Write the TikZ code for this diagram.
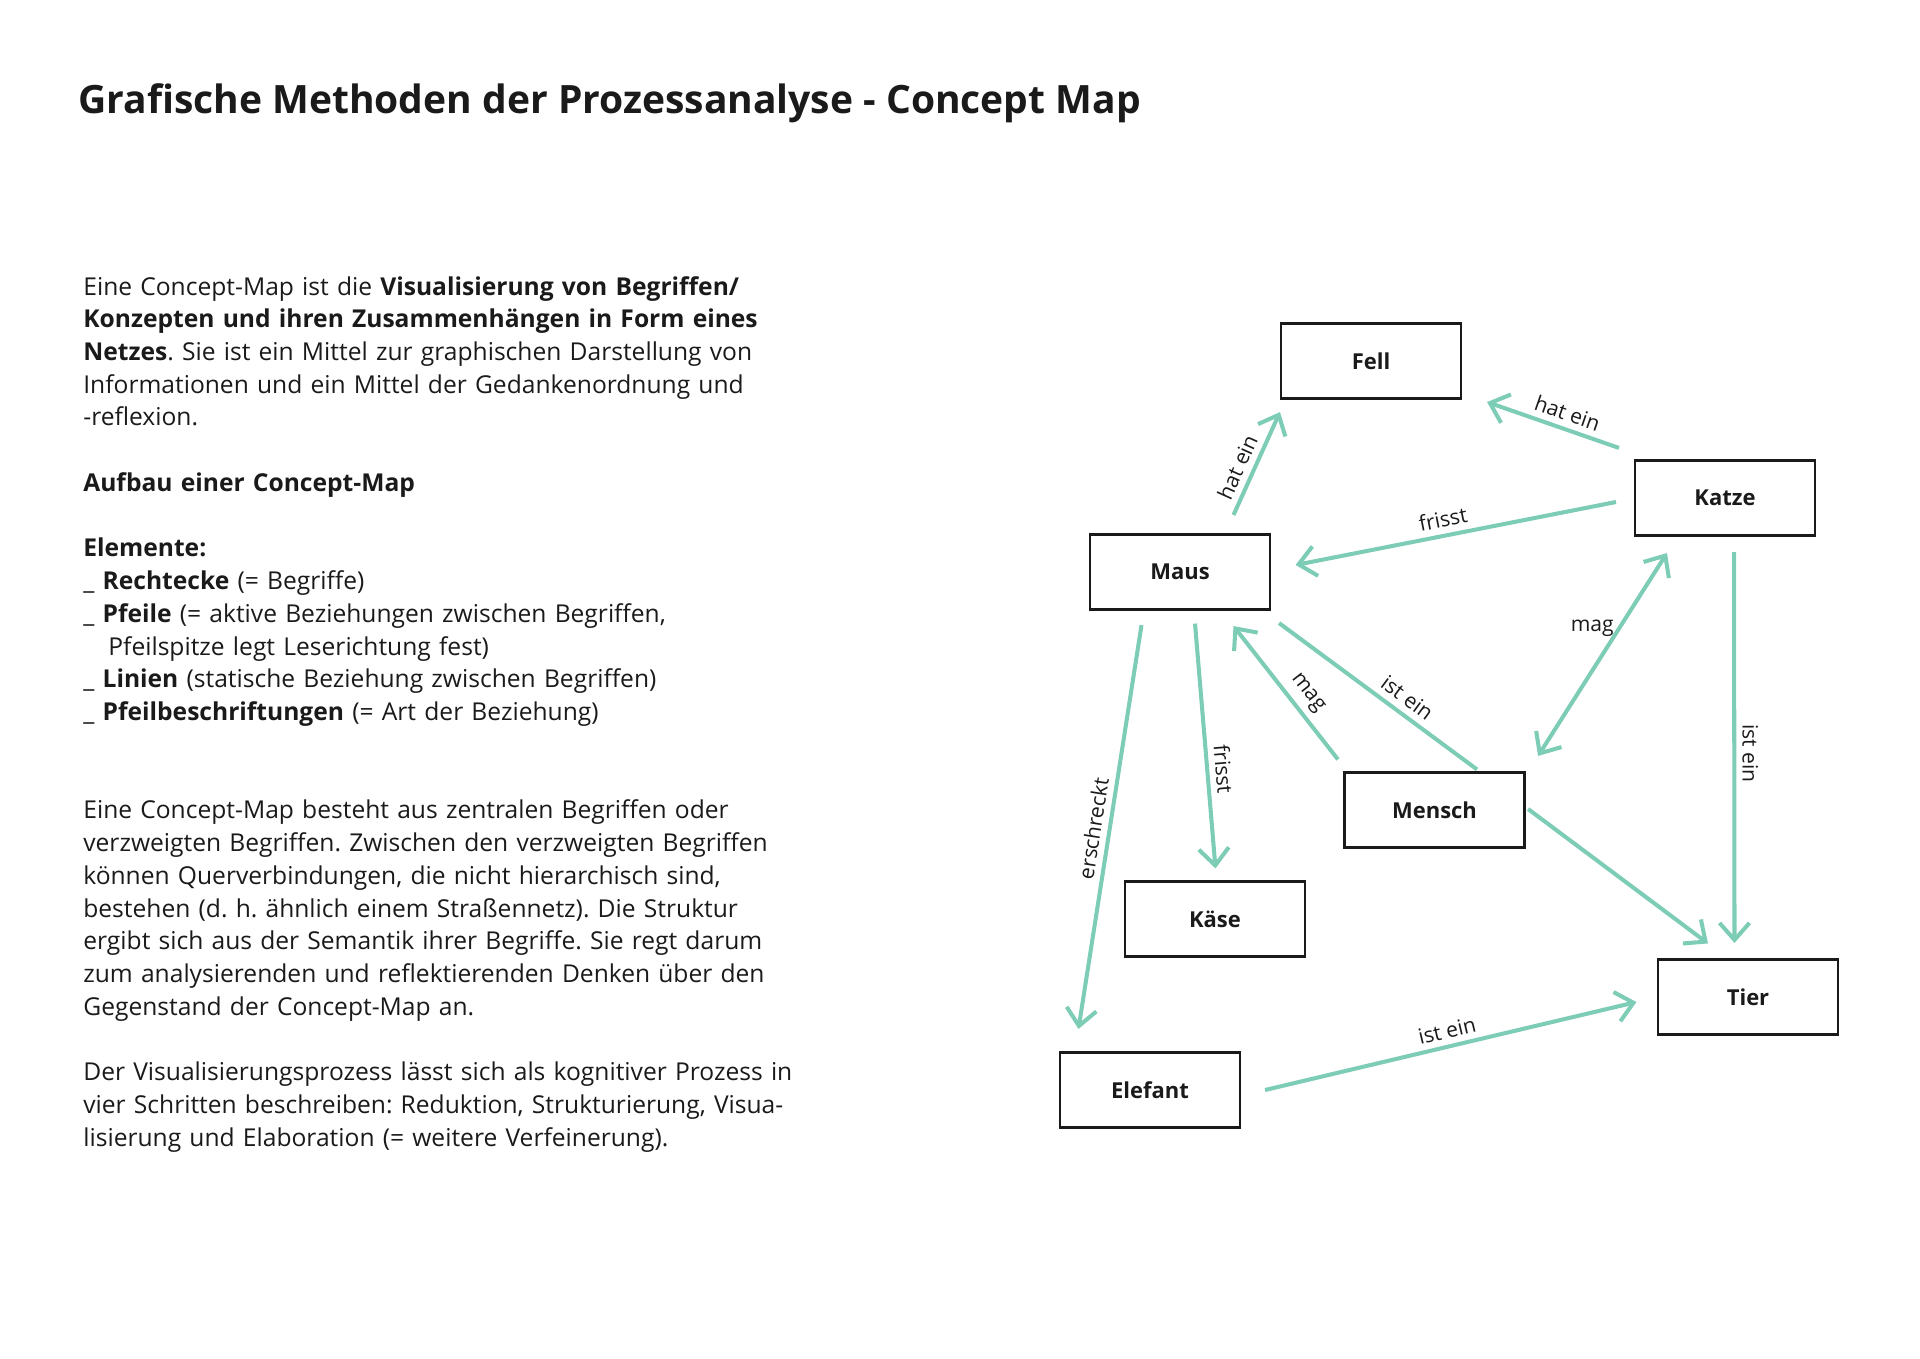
\documentclass[tikz,border=0pt]{standalone}
\usepackage{fontspec}
\setmainfont{Open Sans}
\usetikzlibrary{arrows.meta}
\definecolor{mint}{RGB}{125,204,182}
\definecolor{ink}{RGB}{26,26,26}
\frenchspacing

\begin{document}
\begin{tikzpicture}[
    >={Straight Barb[length=0.34cm, width=0.6cm]},
    begriff/.style={draw=ink, line width=1.2pt, minimum width=3.6cm, minimum height=1.5cm, text=ink, font=\fontsize{12.5}{15}\selectfont\bfseries},
    pfeil/.style={draw=mint, line width=2.3pt, ->},
    linie/.style={draw=mint, line width=2.3pt},
    beschr/.style={text=ink, inner sep=3.5pt, font=\fontsize{12}{14}\selectfont}
  ]
    \useasboundingbox (0, 0) rectangle (38.4, -27.16);

    \node[anchor=base west, inner sep=0, text=ink, font=\fontsize{22.2}{26}\selectfont\bfseries] (titel) at (1.56, -2.27) {Grafische Methoden der Prozessanalyse - Concept Map};

    \node[anchor=base west, inner sep=0, text width=17cm, align=left, text=ink, font=\fontsize{14}{18.63}\selectfont] (erklaerung) at (1.66, -5.9) {%
      Eine Concept-Map ist die \textbf{Visualisierung von Begriffen/}\\
      \textbf{Konzepten und ihren Zusammenhängen in Form eines}\\
      \textbf{Netzes}. Sie ist ein Mittel zur graphischen Darstellung von\\
      Informationen und ein Mittel der Gedankenordnung und\\
      -reflexion.\\[\baselineskip]
      \textbf{Aufbau einer Concept-Map}\\[\baselineskip]
      \textbf{Elemente:}\\
      \_ \textbf{Rechtecke} (= Begriffe)\\
      \_ \textbf{Pfeile} (= aktive Beziehungen zwischen Begriffen,\\
      \hspace*{0.5cm}Pfeilspitze legt Leserichtung fest)\\
      \_ \textbf{Linien} (statische Beziehung zwischen Begriffen)\\
      \_ \textbf{Pfeilbeschriftungen} (= Art der Beziehung)\\[2\baselineskip]
      Eine Concept-Map besteht aus zentralen Begriffen oder\\
      verzweigten Begriffen. Zwischen den verzweigten Begriffen\\
      können Querverbindungen, die nicht hierarchisch sind,\\
      bestehen (d. h. ähnlich einem Straßennetz). Die Struktur\\
      ergibt sich aus der Semantik ihrer Begriffe. Sie regt darum\\
      zum analysierenden und reflektierenden Denken über den\\
      Gegenstand der Concept-Map an.\\[\baselineskip]
      Der Visualisierungsprozess lässt sich als kognitiver Prozess in\\
      vier Schritten beschreiben: Reduktion, Strukturierung, Visua-\\
      lisierung und Elaboration (= weitere Verfeinerung).};

    \node[begriff] (fell) at (27.42, -7.22) {Fell};
    \node[begriff] (katze) at (34.5, -9.96) {Katze};
    \node[begriff] (maus) at (23.6, -11.44) {Maus};
    \node[begriff] (mensch) at (28.69, -16.2) {Mensch};
    \node[begriff] (kaese) at (24.3, -18.38) {Käse};
    \node[begriff] (tier) at (34.96, -19.94) {Tier};
    \node[begriff] (elefant) at (23.0, -21.8) {Elefant};

    \draw[pfeil] ([shift={(1.07,0.37)}]maus.north) -- node[beschr, sloped, above, pos=0.4] {hat ein} ([shift={(0,-0.25)}]fell.south west);
    \draw[pfeil] ([shift={(-0.3,0.23)}]katze.north west) -- node[beschr, sloped, above, pos=0.43] {hat ein} ([shift={(0.5,-0.05)}]fell.south east);
    \draw[pfeil] ([shift={(-0.36,-0.08)}]katze.west) -- node[beschr, sloped, above, pos=0.53] {frisst} ([shift={(0.49,0.14)}]maus.east);
    \draw[pfeil] ([shift={(-0.77,-0.29)}]maus.south) -- node[beschr, sloped, above, pos=0.51] {erschreckt} ([shift={(0.39,0.45)}]elefant.north west);
    \draw[pfeil] ([shift={(0.3,-0.26)}]maus.south) -- node[beschr, sloped, above, pos=0.6] {frisst} ([shift={(0.01,0.24)}]kaese.north);
    \draw[pfeil] ([shift={(-0.11,0.24)}]mensch.north west) -- node[beschr, sloped, above, pos=0.42] {mag} ([shift={(1.07,-0.31)}]maus.south);
    \draw[linie] ([shift={(0.85,0.04)}]mensch.north) -- node[beschr, sloped, above, pos=0.4] {ist ein} ([shift={(0.16,-0.25)}]maus.south east);
    \draw[pfeil, <->] ([shift={(0.66,-0.33)}]katze.south west) -- node[beschr, left, pos=0.37, inner sep=2pt] {mag} ([shift={(0.25,0.31)}]mensch.north east);
    \draw[pfeil] ([shift={(0.18,-0.31)}]katze.south) -- node[beschr, sloped, above, pos=0.515] {ist ein} ([shift={(-0.27,0.31)}]tier.north);
    \draw[pfeil] ([shift={(0.05,0.02)}]mensch.east) -- ([shift={(-0.8,0.3)}]tier.north);
    \draw[pfeil] ([shift={(0.48,0)}]elefant.east) -- node[beschr, sloped, above, pos=0.5] {ist ein} ([shift={(-0.41,-0.1)}]tier.west);
  \end{tikzpicture}
\end{document}
